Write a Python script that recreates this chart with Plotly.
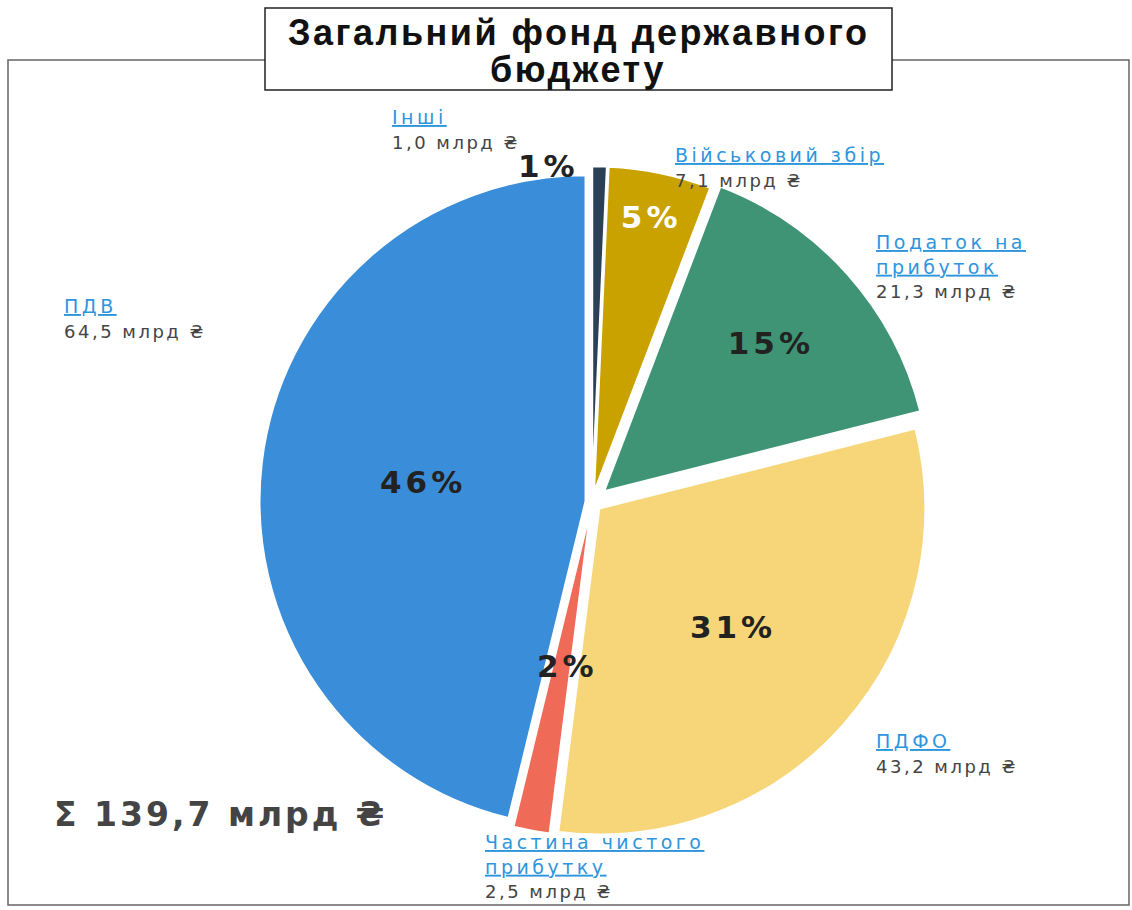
import plotly.graph_objects as go

# ---- data ----
categories = ["Інші", "Військовий збір", "Податок на прибуток", "ПДФО",
              "Частина чистого прибутку", "ПДВ"]
values_bn = [1.0, 7.1, 21.3, 43.2, 2.5, 64.5]
total_bn = [139.7]
colors = ["#2B3F57", "#C9A200", "#3F9475", "#F7D679", "#F06A58", "#3A8DD8"]
title_lines = ["Загальний фонд державного", "бюджету"]

W, H = 1132, 910


def px(x):
    return x / W


def py(y):
    return 1 - y / H


def fmt(v):
    return f"{v:.1f}".replace(".", ",") + " млрд ₴"


s = sum(values_bn)
pcts = [f"{round(v / s * 100)}%" for v in values_bn]

pct_tpl = "<span style='letter-spacing:4px'>%{percent:.0%}</span>"
texttemplates = ["", pct_tpl, pct_tpl, pct_tpl, "", pct_tpl]
textcolors = ["#222222", "#FFFFFF", "#222222", "#222222", "#222222", "#222222"]

cx, cy, R = 592, 502, 326
half = R * 1.05

fig = go.Figure()
fig.add_trace(go.Pie(
    labels=categories,
    values=values_bn,
    sort=False,
    direction="clockwise",
    rotation=0,
    pull=[0.03, 0.03, 0.05, 0.03, 0.025, 0.02],
    marker=dict(colors=colors, line=dict(color="#FFFFFF", width=2)),
    texttemplate=texttemplates,
    textposition="inside",
    insidetextorientation="horizontal",
    insidetextfont=dict(family="DejaVu Sans", size=31, color=textcolors, weight="bold"),
    hoverinfo="label+value+percent",
    showlegend=False,
    domain=dict(x=[px(cx - half), px(cx + half)], y=[py(cy + half), py(cy - half)]),
))

name_col = "#2E95DD"
val_col = "#444444"

label_pos = [  # left x, top y of each outside label block
    (390, 104),
    (673, 142),
    (874, 229),
    (874, 728),
    (483, 829),
    (62, 293),
]
wrap = {
    "Податок на прибуток": "Податок на<br>прибуток",
    "Частина чистого прибутку": "Частина чистого<br>прибутку",
}

annotations = []
for cat, v, (x, y) in zip(categories, values_bn, label_pos):
    nm = wrap.get(cat, cat)
    nm = "<br>".join(f"<u>{part}</u>" for part in nm.split("<br>"))
    txt = (f"<span style='color:{name_col};letter-spacing:3.5px'>{nm}</span><br>"
           f"<span style='color:{val_col};font-size:18px;letter-spacing:2.5px'>{fmt(v)}</span>")
    annotations.append(dict(
        x=px(x), y=py(y), xref="paper", yref="paper", xanchor="left", yanchor="top",
        text=txt, showarrow=False, align="left",
        font=dict(family="DejaVu Sans", size=19, color=name_col),
    ))

pct_font = dict(family="DejaVu Sans", size=31, color="#222222", weight="bold")
# small-slice percentages
annotations.append(dict(x=px(548), y=py(166), xref="paper", yref="paper",
                        xanchor="center", yanchor="middle",
                        text=f"<span style='letter-spacing:4px'>{pcts[0]}</span>",
                        showarrow=False, font=pct_font))
annotations.append(dict(x=px(567), y=py(666), xref="paper", yref="paper",
                        xanchor="center", yanchor="middle",
                        text=f"<span style='letter-spacing:4px'>{pcts[4]}</span>",
                        showarrow=False, font=pct_font))

# total
annotations.append(dict(x=px(52), y=py(814), xref="paper", yref="paper",
                        xanchor="left", yanchor="middle",
                        text="<span style='letter-spacing:3px'>Σ "
                             + f"{total_bn[0]:.1f}".replace(".", ",") + " млрд ₴</span>",
                        showarrow=False,
                        font=dict(family="DejaVu Sans", size=33, color="#444444", weight="bold")))

# title (two lines, tighter spacing as in the reference)
for line, ty in zip(title_lines, [33, 70]):
    annotations.append(dict(x=px(578), y=py(ty), xref="paper", yref="paper",
                            xanchor="center", yanchor="middle",
                            text=f"<span style='letter-spacing:2.5px'>{line}</span>",
                            showarrow=False, align="center",
                            font=dict(family="Liberation Sans", size=36, color="#111111",
                                      weight="bold")))

shapes = [
    dict(type="rect", xref="paper", yref="paper", x0=px(8), x1=px(1129), y0=py(905), y1=py(60),
         line=dict(color="#666666", width=1.5), fillcolor="rgba(0,0,0,0)", layer="below"),
    dict(type="rect", xref="paper", yref="paper", x0=px(265), x1=px(892), y0=py(90), y1=py(8),
         line=dict(color="#222222", width=1.5), fillcolor="#FFFFFF", layer="below"),
]

fig.update_layout(
    width=W, height=H,
    margin=dict(l=0, r=0, t=0, b=0),
    paper_bgcolor="#FFFFFF",
    plot_bgcolor="#FFFFFF",
    annotations=annotations,
    shapes=shapes,
    showlegend=False,
)

fig.write_html("out.html", config={"displayModeBar": False},
               post_script="document.body.style.margin='0px';")
